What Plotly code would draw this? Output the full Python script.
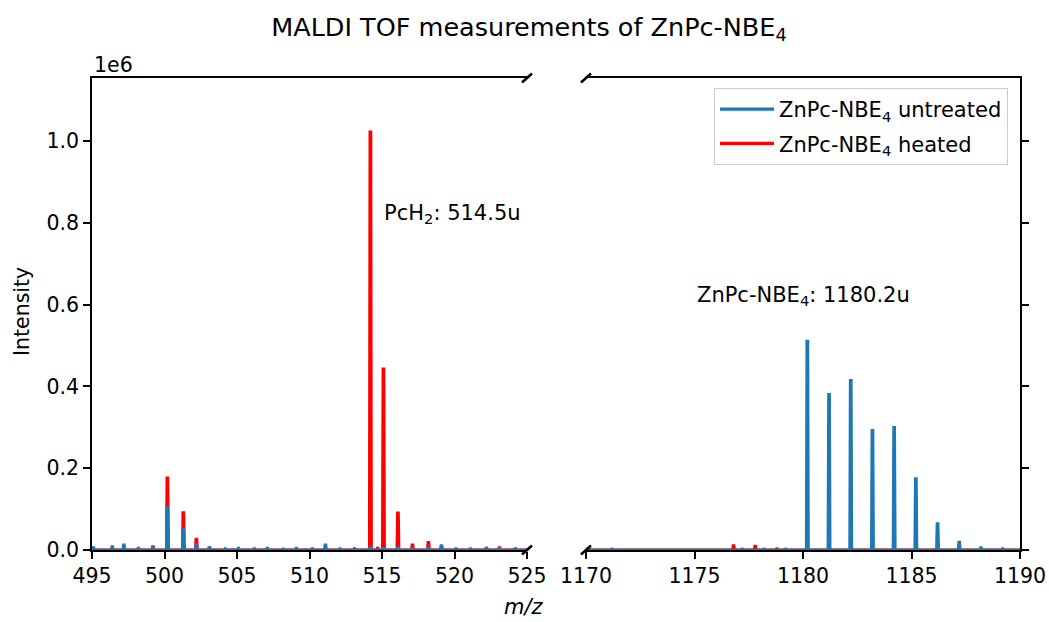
import plotly.graph_objects as go

# ---------------- data (m/z of peak, intensity in units of 1e6) ----------------
left_untreated_mz = [495.1, 496.4, 497.2, 498.2, 499.2, 500.2, 501.3, 502.2, 503.1, 504.2,
                     505.1, 506.2, 507.1, 508.2, 509.1, 510.2, 511.1, 512.1, 513.1, 514.2,
                     515.1, 516.1, 517.1, 518.2, 519.1, 520.1, 521.1, 522.2, 523.1, 524.2]
left_untreated_int = [0.005, 0.008, 0.012, 0.004, 0.005, 0.103, 0.049, 0.012, 0.005, 0.003,
                      0.004, 0.003, 0.004, 0.002, 0.004, 0.003, 0.012, 0.003, 0.002, 0.006,
                      0.003, 0.005, 0.003, 0.005, 0.010, 0.003, 0.003, 0.004, 0.003, 0.002]

left_heated_mz = [499.2, 500.2, 501.3, 502.2, 503.1, 513.1, 514.2, 514.7, 515.1, 516.1,
                  517.1, 518.2, 519.1, 522.2, 523.1, 524.2]
left_heated_int = [0.008, 0.176, 0.091, 0.026, 0.005, 0.003, 1.022, 0.004, 0.442, 0.090,
                   0.012, 0.018, 0.006, 0.004, 0.005, 0.003]

right_untreated_mz = [1171.2, 1172.2, 1173.2, 1174.2, 1175.2, 1176.2, 1177.2, 1178.2, 1179.2,
                      1180.2, 1181.2, 1182.2, 1183.2, 1184.2, 1185.2, 1186.2, 1187.2, 1188.2, 1189.2]
right_untreated_int = [0.002, 0.001, 0.001, 0.001, 0.001, 0.001, 0.002, 0.002, 0.002,
                       0.510, 0.380, 0.414, 0.292, 0.299, 0.174, 0.064, 0.019, 0.005, 0.003]

right_heated_mz = [1176.8, 1177.8, 1178.8]
right_heated_int = [0.010, 0.009, 0.003]

left_range = [495, 525]
right_range = [1170, 1190]
left_ticks = [495, 500, 505, 510, 515, 520, 525]
right_ticks = [1170, 1175, 1180, 1185, 1190]
y_ticks = [0.0, 0.2, 0.4, 0.6, 0.8, 1.0]
SCALE = 1e6

BLUE = "#1f77b4"
RED = "#ff0000"
FONT = "DejaVu Sans"
FS = 21
TFS = 20.5


def sticks(mz, inten, xr, hw):
    xs = [xr[0]]
    ys = [0.0]
    for m, h in zip(mz, inten):
        xs += [m - hw, m - hw / 3, m + hw / 3, m + hw]
        ys += [0.0, h * SCALE, h * SCALE, 0.0]
    xs.append(xr[1])
    ys.append(0.0)
    return xs, ys


fig = go.Figure()

def add(mz, inten, xr, hw, color, name, xa, ya, show, rank):
    xs, ys = sticks(mz, inten, xr, hw)
    fig.add_trace(go.Scatter(x=xs, y=ys, mode="lines", line=dict(color=color, width=3.2),
                             name=name, xaxis=xa, yaxis=ya, showlegend=show,
                             legendgroup=name, legendrank=rank, hoverinfo="skip"))

add(left_heated_mz, left_heated_int, left_range, 0.06, RED,
    "ZnPc-NBE<sub>4</sub> heated", "x", "y", True, 2)
add(right_heated_mz, right_heated_int, right_range, 0.04, RED,
    "ZnPc-NBE<sub>4</sub> heated", "x2", "y2", False, 2)
add(left_untreated_mz, left_untreated_int, left_range, 0.06, BLUE,
    "ZnPc-NBE<sub>4</sub> untreated", "x", "y", True, 1)
add(right_untreated_mz, right_untreated_int, right_range, 0.04, BLUE,
    "ZnPc-NBE<sub>4</sub> untreated", "x2", "y2", False, 1)

L, R, T, B = 92, 29, 78, 72
W, H = 1049, 622
pw = W - L - R
ph = H - T - B
dom_left = [0, (527 - L) / pw]
dom_right = [(586 - L) / pw, 1]
y_max = 1.154e6


def px(xp):
    return (xp - L) / pw


def py(yp):
    return (H - B - yp) / ph


axis_common = dict(showgrid=False, zeroline=False, showline=True, linecolor="black",
                   linewidth=1.6, ticks="outside", ticklen=7, tickwidth=1.6,
                   tickcolor="black", tickfont=dict(family=FONT, size=TFS, color="black"))

fig.update_layout(
    width=W, height=H, autosize=False,
    margin=dict(l=L, r=R, t=T, b=B, autoexpand=False),
    paper_bgcolor="white", plot_bgcolor="white",
    font=dict(family=FONT, size=FS, color="black"),
    title=dict(text="MALDI TOF measurements of ZnPc-NBE<sub>4</sub>", xref="container",
               x=529 / W, xanchor="center", yref="container", y=1 - 27 / H,
               yanchor="middle", font=dict(family=FONT, size=25.5, color="black")),
    xaxis=dict(axis_common, domain=dom_left, range=left_range, tickvals=left_ticks,
               mirror=True, anchor="y"),
    xaxis2=dict(axis_common, domain=dom_right, range=right_range, tickvals=right_ticks,
                mirror=True, anchor="y2"),
    yaxis=dict(axis_common, range=[0, y_max], tickvals=[v * SCALE for v in y_ticks],
               ticktext=[f"{v:.1f}" for v in y_ticks], anchor="x", side="left"),
    yaxis2=dict(axis_common, range=[0, y_max], tickvals=[v * SCALE for v in y_ticks],
                showticklabels=False, anchor="x2", side="right", matches="y"),
    legend=dict(x=px(1008), xanchor="right", y=py(88), yanchor="top",
                bgcolor="rgba(255,255,255,0.8)", bordercolor="#cccccc", borderwidth=1,
                font=dict(family=FONT, size=FS, color="black"), tracegroupgap=4,
                itemwidth=54),
    showlegend=True,
)

# break marks
marks = []
for xref, yref, xa in [("x domain", "y domain", 1), ("x2 domain", "y2 domain", 0)]:
    for ya in (0, 1):
        marks.append(dict(type="line", xref=xref, yref=yref, xsizemode="pixel",
                          ysizemode="pixel", xanchor=xa, yanchor=ya, x0=-5, x1=5,
                          y0=-4.5, y1=4.5, line=dict(color="black", width=2.5)))
fig.update_layout(shapes=marks)

fig.add_annotation(text="PcH<sub>2</sub>: 514.5u", x=515, y=0.8e6, xref="x", yref="y",
                   xanchor="left", yanchor="bottom", yshift=-6, showarrow=False,
                   font=dict(family=FONT, size=FS, color="black"))
fig.add_annotation(text="ZnPc-NBE<sub>4</sub>: 1180.2u", x=1175, y=0.6e6, xref="x2", yref="y2",
                   xanchor="left", yanchor="bottom", yshift=-6, showarrow=False,
                   font=dict(family=FONT, size=FS, color="black"))
fig.add_annotation(text="1e6", x=0, y=1, xref="paper", yref="paper", xanchor="left",
                   yanchor="bottom", yshift=-1, showarrow=False,
                   font=dict(family=FONT, size=TFS, color="black"))
fig.add_annotation(text="<i>m/z</i>", x=px(524), y=py(607), xref="paper", yref="paper",
                   xanchor="center", yanchor="middle", showarrow=False,
                   font=dict(family=FONT, size=FS, color="black"))
fig.add_annotation(text="Intensity", x=px(22), y=py(312), xref="paper", yref="paper",
                   xanchor="center", yanchor="middle", textangle=-90, showarrow=False,
                   font=dict(family=FONT, size=TFS, color="black"))

fig.write_html("out.html")
